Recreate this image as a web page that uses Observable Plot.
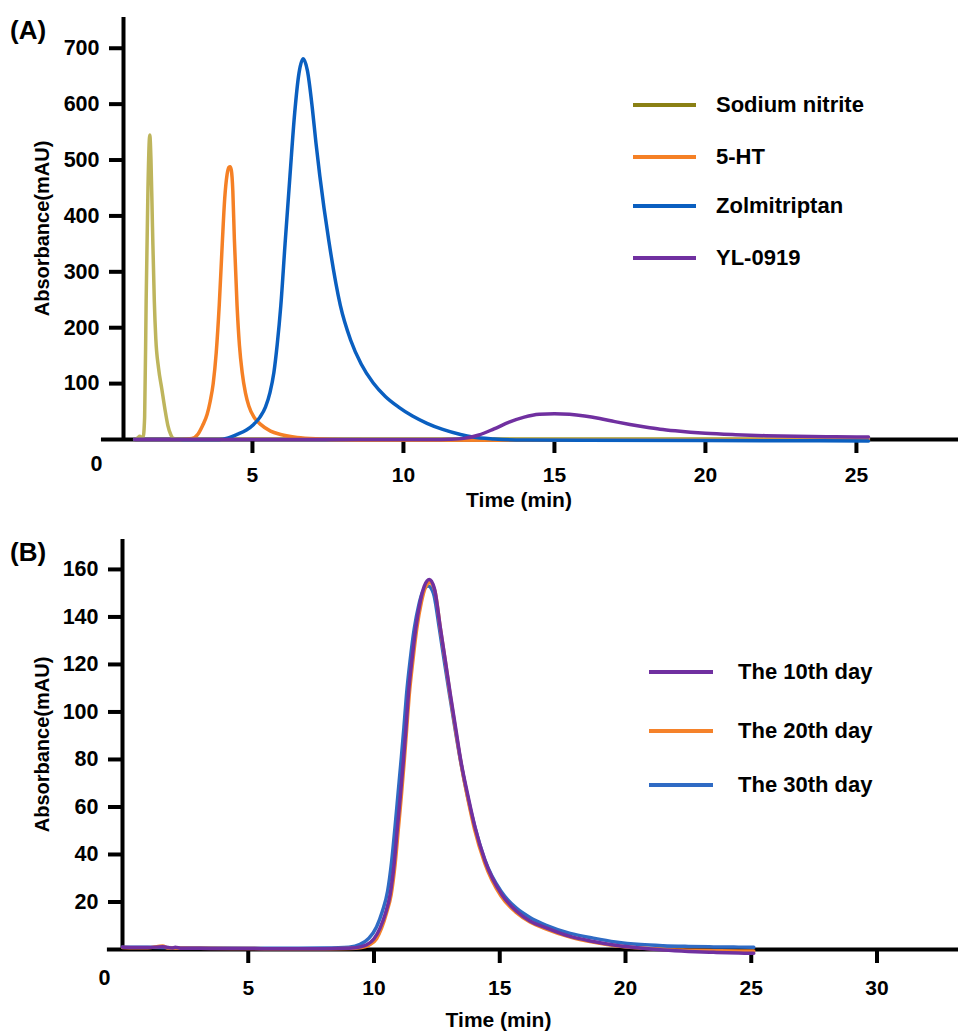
<!DOCTYPE html>
<html><head><meta charset="utf-8">
<script src="https://cdn.jsdelivr.net/npm/d3@7"></script>
<script src="https://cdn.jsdelivr.net/npm/@observablehq/plot@0.6"></script>
<style>
body{margin:0;background:#fff;}
#root{position:relative;width:960px;height:1032px;font-family:"Liberation Sans",Arial,Helvetica,sans-serif;font-weight:bold;color:#000;overflow:hidden;}
.panel{position:absolute;left:0;}
.tag{position:absolute;font-size:26px;line-height:30px;}
.item{position:absolute;height:30px;display:flex;align-items:center;white-space:nowrap;font-size:22px;}
.swatch{display:inline-block;height:4.5px;}
svg text{font-weight:bold;}
</style></head><body><div id="root"></div>
<script>
// ---------- Panel A data (time min, absorbance mAU) ----------
const namesA = ["Sodium nitrite", "5-HT", "Zolmitriptan", "YL-0919"];
const sodiumNitrite = [[1.1,0],[1.2,3],[1.27,6],[1.33,4],[1.38,4],[1.43,40],[1.48,248],[1.54,450],[1.6,545],[1.64,500],[1.69,380],[1.75,248],[1.8,180],[1.89,128],[2.0,90],[2.1,55],[2.2,25],[2.3,8],[2.38,2],[2.5,1],[6,1],[12,1.5],[18,1.5],[25.4,1.5]];
const ht5 = [[1.1,0],[2.6,0],[3.0,2],[3.2,10],[3.35,25],[3.5,45],[3.6,68],[3.7,100],[3.8,155],[3.9,240],[4.0,350],[4.08,430],[4.16,474],[4.22,487],[4.26,488],[4.3,482],[4.35,445],[4.4,360],[4.49,240],[4.57,168],[4.66,120],[4.77,83],[4.88,60],[5.05,40],[5.27,27],[5.6,15],[5.93,9],[6.48,3.5],[7.2,1],[9,-1],[15,-1.5],[25.4,-1.5]];
const zolmitriptan = [[1.1,0],[3.9,0],[4.2,3],[4.49,9],[4.8,17],[5.04,27],[5.25,40],[5.43,58],[5.58,84],[5.71,120],[5.82,170],[5.94,240],[6.08,350],[6.24,470],[6.4,585],[6.54,655],[6.68,681],[6.82,660],[6.98,594],[7.1,532],[7.23,472],[7.53,355],[7.91,240],[8.25,178],[8.6,135],[9.0,101],[9.4,77],[9.84,58],[10.3,42],[10.78,29],[11.3,18],[11.89,9],[12.3,4.5],[13,1],[14,-1],[20,-2],[25.4,-2.5]];
const yl0919 = [[1.1,0],[11,0],[11.5,0.5],[12,2],[12.5,8],[13,19],[13.5,31],[14,40],[14.5,45],[15,46],[15.5,45],[16,42],[16.5,37.5],[17,32],[17.5,27],[18,22.5],[18.5,18.5],[19,15.5],[19.5,13],[20,11],[21,8.5],[22,6.8],[23,5.8],[24,5],[25,4.6],[25.4,4.5]];
const seriesA = [sodiumNitrite, ht5, zolmitriptan, yl0919];
const lineColorsA = ["#beb55c", "#f58025", "#0a5fc0", "#7030a0"];
const legendColorsA = ["#8a8014", "#f58025", "#0a5fc0", "#7030a0"];
const yTicksA = [100, 200, 300, 400, 500, 600, 700];
const xTicksA = [5, 10, 15, 20, 25];

// ---------- Panel B data ----------
const namesB = ["The 10th day", "The 20th day", "The 30th day"];
const day10 = [[0,1],[1,0.8],[1.6,1.2],[2,0.6],[2.1,1.0],[2.3,0.5],[3,0.5],[4,0.4],[5,0.4],[6,0.3],[7,0.3],[8,0.3],[9,0.5],[9.5,1.2],[9.71,2],[10,4.5],[10.24,9],[10.45,15],[10.64,23.1],[10.8,36],[10.93,51.3],[11.05,65],[11.17,79.6],[11.27,93],[11.37,107.8],[11.52,123],[11.67,136],[11.85,147],[12.0,153],[12.2,155.8],[12.4,152],[12.63,136],[12.83,122],[13.03,107.8],[13.25,93],[13.45,79.6],[13.75,64],[14.02,51.3],[14.42,37.2],[15.08,23.1],[15.67,16.1],[16.2,12],[16.87,9],[17.8,5.5],[18.72,3.4],[19.6,1.8],[20.58,0.6],[21.5,-0.2],[22.5,-0.8],[23.5,-1.2],[24.5,-1.5],[25.1,-1.6]];
const day20 = [[0,0.8],[1,0.7],[1.6,1.5],[1.8,0.6],[3,0.5],[5,0.4],[7,0.3],[8,0.3],[9,0.4],[9.5,0.8],[9.8,1.8],[10.1,4.5],[10.3,9],[10.5,15.5],[10.68,23],[10.84,36],[10.97,51],[11.09,65],[11.2,79],[11.3,93],[11.4,107],[11.55,122],[11.7,135],[11.88,146],[12.03,152],[12.22,154.5],[12.42,151],[12.64,135],[12.84,121],[13.03,107],[13.25,92],[13.45,79],[13.74,63],[14.0,50.5],[14.4,36.5],[15.05,22.5],[15.65,15.6],[16.2,11.6],[16.85,8.6],[17.8,5.2],[18.7,3.1],[19.6,1.6],[20.6,0.6],[21.5,0],[22.5,-0.3],[23.5,-0.5],[24.5,-0.6],[25.1,-0.6]];
const day30 = [[0,1],[1,0.9],[2,0.7],[3,0.6],[5,0.5],[7,0.5],[8,0.6],[9.0,1],[9.45,2.2],[9.8,4.8],[10.1,9.5],[10.33,16],[10.54,24.5],[10.7,37],[10.84,52],[10.96,66],[11.08,80],[11.19,93.5],[11.29,107],[11.44,122],[11.6,135],[11.78,145],[11.95,151],[12.15,153],[12.36,150],[12.6,135],[12.8,121],[13.0,107.5],[13.22,93],[13.43,80],[13.72,64.5],[14.0,52],[14.4,38],[15.05,24.5],[15.65,17.5],[16.2,13.5],[16.85,10.2],[17.8,6.8],[18.72,4.8],[19.6,3.2],[20.6,2.1],[21.5,1.6],[22.5,1.3],[23.5,1.1],[24.5,1],[25.1,0.9]];
const seriesB = [day10, day20, day30];
const colorsB = ["#7030a0", "#f5822a", "#2f6bc4"];
const drawOrderB = [2, 1, 0]; // 30th under, 10th on top
const yTicksB = [20, 40, 60, 80, 100, 120, 140, 160];
const xTicksB = [5, 10, 15, 20, 25, 30];

// ---------- helpers ----------
const FONT = "'Liberation Sans', Arial, Helvetica, sans-serif";
function rowsOf(names, series, order) {
  return order.flatMap(i => series[i].map(([t, v]) => ({name: names[i], t, v})));
}

function panel({rows, names, colors, yMax, xStart, xEnd, xLineStart, yTicks, xTicks,
                height, mTop, mBottom, mLeft, xTickPad, zeroDx, zeroDy, titleDx, titleDy, yTitleDx}) {
  return Plot.plot({
    width: 960, height,
    marginLeft: mLeft, marginRight: 2, marginTop: mTop, marginBottom: mBottom,
    x: {domain: [xStart, xEnd]},
    y: {domain: [0, yMax]},
    color: {domain: names, range: colors},
    style: `font-family:${FONT};font-size:21px;font-weight:bold;overflow:visible;background:transparent;`,
    marks: [
      Plot.axisY({ticks: yTicks, tickSize: 14, tickPadding: 10, strokeWidth: 4, label: null, fontSize: 21.5, tickFormat: d => String(d)}),
      Plot.axisX({ticks: xTicks, tickSize: 14, tickPadding: xTickPad, strokeWidth: 4, label: null, fontSize: 21, tickFormat: d => String(d)}),
      Plot.ruleY([0], {y: d => d, x1: () => xLineStart, x2: () => xEnd, stroke: "#000", strokeWidth: 4}),
      Plot.ruleX([xStart], {x: d => d, y1: () => 0, y2: () => yMax, stroke: "#000", strokeWidth: 4}),
      Plot.line(rows, {x: "t", y: "v", z: "name", stroke: "name", strokeWidth: 3.5, curve: "monotone-x"}),
      Plot.text([0], {x: d => d, y: () => 0, text: () => "0", dx: zeroDx, dy: zeroDy, fontSize: 21.5}),
      Plot.text(["Time (min)"], {frameAnchor: "bottom", lineAnchor: "middle", textAnchor: "middle", text: d => d, dx: titleDx, dy: titleDy, fontSize: 21}),
      Plot.text(["Absorbance(mAU)"], {frameAnchor: "left", textAnchor: "middle", lineAnchor: "middle", text: d => d, rotate: -90, dx: yTitleDx, fontSize: 20})
    ]
  });
}

const root = document.getElementById("root");
function addPanel(svg, top) {
  const d = document.createElement("div");
  d.className = "panel"; d.style.top = top + "px";
  d.appendChild(svg); root.appendChild(d);
}
function addTag(text, left, top) {
  const d = document.createElement("div");
  d.className = "tag"; d.textContent = text;
  d.style.left = left + "px"; d.style.top = top + "px";
  root.appendChild(d);
}
function addLegend(names, colors, left, tops, swatchW, gap) {
  names.forEach((n, i) => {
    const it = document.createElement("div");
    it.className = "item";
    it.style.left = left + "px"; it.style.top = (tops[i] - 15) + "px";
    const sw = document.createElement("span");
    sw.className = "swatch"; sw.style.width = swatchW + "px"; sw.style.background = colors[i];
    sw.style.marginRight = gap + "px";
    const tx = document.createElement("span"); tx.textContent = n;
    it.appendChild(sw); it.appendChild(tx); root.appendChild(it);
  });
}

// Panel A
addPanel(panel({
  rows: rowsOf(namesA, seriesA, [0, 1, 2, 3]), names: namesA, colors: lineColorsA,
  yMax: 755, xStart: 0.73, xEnd: 28.38, xLineStart: 0, yTicks: yTicksA, xTicks: xTicksA,
  height: 520, mTop: 17, mBottom: 81, mLeft: 123, xTickPad: 14,
  zeroDx: -5, zeroDy: 25, titleDx: -22, titleDy: 61, yTitleDx: -81
}), 0);
addTag("(A)", 10, 15);
addLegend(namesA, legendColorsA, 633, [105, 157, 206, 258], 63, 20);

// Panel B
addPanel(panel({
  rows: rowsOf(namesB, seriesB, drawOrderB), names: namesB, colors: colorsB,
  yMax: 172.6, xStart: 0, xEnd: 33.24, xLineStart: -0.6, yTicks: yTicksB, xTicks: xTicksB,
  height: 512, mTop: 19, mBottom: 83, mLeft: 122, xTickPad: 17,
  zeroDx: -18, zeroDy: 29, titleDx: -42, titleDy: 71, yTitleDx: -80
}), 520);
addTag("(B)", 10, 537);
addLegend(namesB, colorsB, 649, [672, 731, 785], 64, 25);
</script></body></html>
